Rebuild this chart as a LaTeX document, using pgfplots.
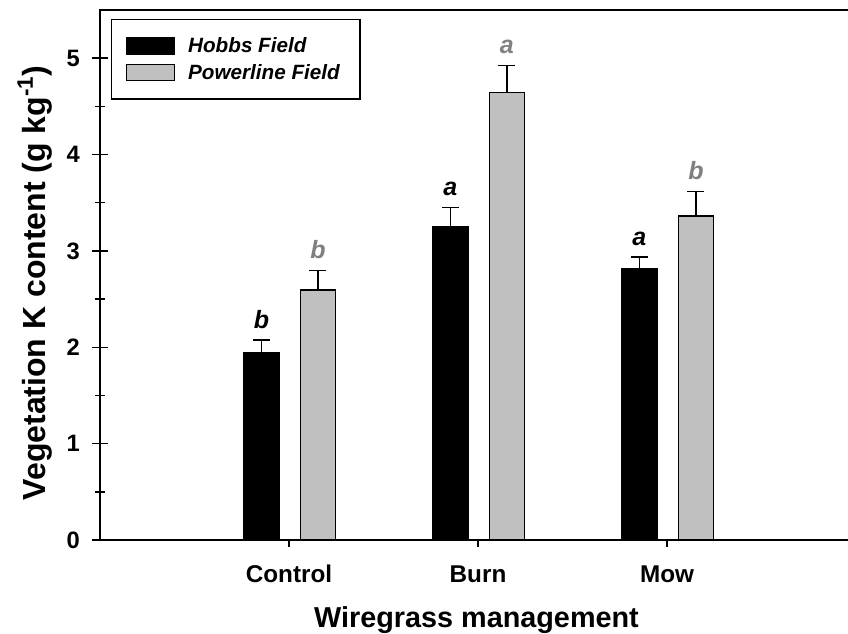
\documentclass[border=0pt]{standalone}
\usepackage{fontspec}
\setmainfont{Liberation Sans}
\usepackage{pgfplots}
\pgfplotsset{compat=1.18}
\definecolor{barGray}{RGB}{192,192,192}
\definecolor{txtGray}{RGB}{128,128,128}
\pgfplotsset{mylegend/.style={legend image code/.code={\draw[##1, line width=1.1pt] (0pt,-6pt) rectangle (36pt,6pt);}}}
\begin{document}
\begin{tikzpicture}
\begin{axis}[
  scale only axis, width=562.5pt, height=397.5pt,
  at={(0pt,0pt)}, anchor=south west,
  xmin=0, xmax=3.968, ymin=0, ymax=5.5,
  axis line style={line width=1.5pt},
  xtick=\empty,
  extra x ticks={1,2,3},
  extra x tick labels={Control,Burn,Mow},
  extra x tick style={tick align=outside, major tick length=5.25pt},
  ytick={0,1,2,3,4,5},
  minor ytick={0.5,1.5,2.5,3.5,4.5},
  tick align=center, major tick length=12pt, minor tick length=7.5pt,
  ytick pos=left, xtick pos=bottom,
  tick style={line width=1.1pt, black},
  /pgf/number format/assume math mode=true,
  yticklabel style={font=\bfseries\fontsize{17.8}{20}\selectfont, anchor=east, inner sep=0pt, xshift=-9pt},
  xticklabel style={font=\bfseries\fontsize{18.2}{20}\selectfont, anchor=base, inner sep=0pt, yshift=-27pt},
  ylabel={Vegetation K content (g kg\textsuperscript{-1})},
  ylabel style={font=\bfseries\fontsize{24}{28}\selectfont, at={(axis description cs:-0.0733,0.485)}, anchor=base},
  xlabel={Wiregrass management},
  xlabel style={font=\bfseries\fontsize{21.6}{25}\selectfont, at={(axis description cs:0.502,-0.166)}, anchor=base},
  legend style={at={(axis description cs:0.01467,0.983)}, anchor=north west, draw=black, line width=1.1pt,
    inner xsep=10.5pt, inner ysep=13.25pt, row sep=6.75pt,
    font=\bfseries\itshape\fontsize{15.5}{18}\selectfont,
    nodes={inner sep=0pt, text height=11pt, text depth=1pt},
    /tikz/every odd column/.append style={column sep=9.75pt}},
  legend cell align=left,
]
\addplot[ybar, bar width=0.185, bar shift=0, fill=black, draw=black, line width=1.1pt, mylegend,
  error bars/.cd, y dir=plus, y explicit,
  error bar style={line width=1.1pt, black},
  error mark options={rotate=90, mark size=6.4pt, line width=1.1pt, black}]
  coordinates {(0.854,1.94) +- (0,0.135) (1.854,3.248) +- (0,0.20) (2.854,2.815) +- (0,0.12)};
\addlegendentry{Hobbs Field}
\addplot[ybar, bar width=0.185, bar shift=0, fill=barGray, draw=black, line width=1.1pt, mylegend,
  error bars/.cd, y dir=plus, y explicit,
  error bar style={line width=1.1pt, black},
  error mark options={rotate=90, mark size=6.4pt, line width=1.1pt, black}]
  coordinates {(1.153,2.594) +- (0,0.20) (2.153,4.642) +- (0,0.28) (3.153,3.364) +- (0,0.25)};
\addlegendentry{Powerline Field\hspace*{4.5pt}}
\addplot[forget plot, only marks, mark=*, mark size=0pt, mark options={draw=none, fill=none},
  nodes near coords, point meta=explicit symbolic,
  every node near coord/.append style={anchor=base, yshift=9pt, text=black, font=\bfseries\itshape\fontsize{18.75}{20}\selectfont}]
  coordinates {(0.854,2.075) [b] (1.854,3.448) [a] (2.854,2.935) [a]};
\addplot[forget plot, only marks, mark=*, mark size=0pt, mark options={draw=none, fill=none},
  nodes near coords, point meta=explicit symbolic,
  every node near coord/.append style={anchor=base, yshift=9pt, text=txtGray, font=\bfseries\itshape\fontsize{18.75}{20}\selectfont}]
  coordinates {(1.153,2.794) [b] (2.153,4.922) [a] (3.153,3.614) [b]};
\end{axis}
\pgfresetboundingbox
\path[use as bounding box] (-75pt,-70.5pt) rectangle (561pt,405pt);
\end{tikzpicture}
\end{document}
